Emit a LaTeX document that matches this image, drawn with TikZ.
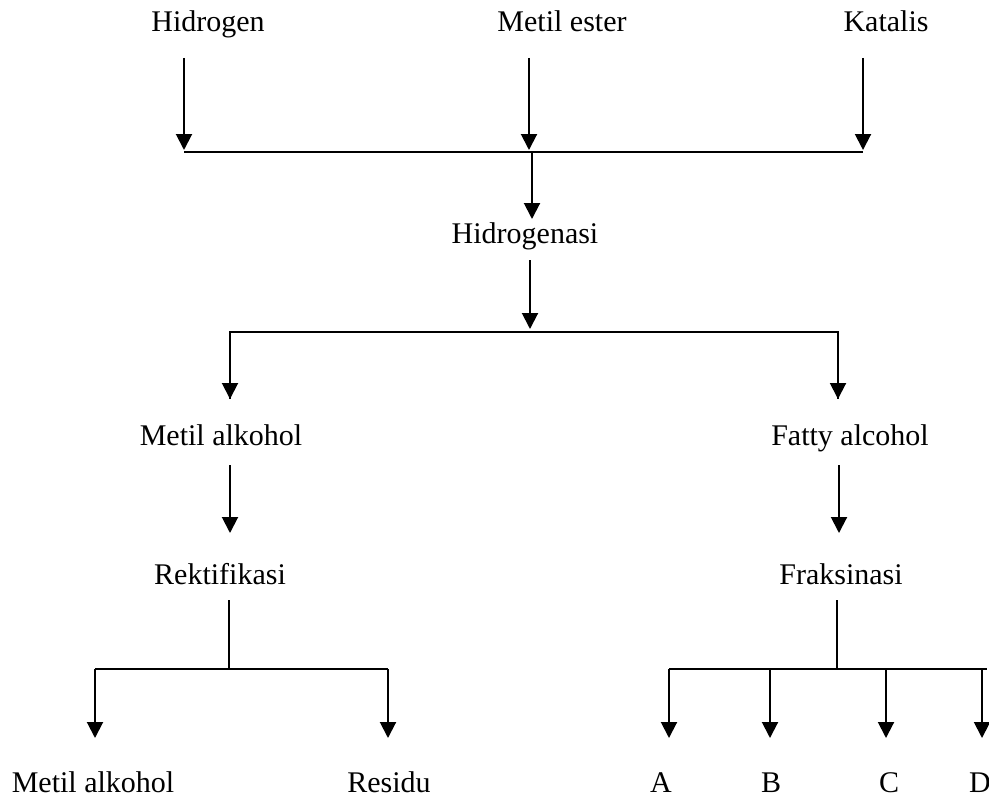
\documentclass[tikz,border=0pt]{standalone}
\usepackage{fontspec}
\setmainfont{Liberation Serif}
\usetikzlibrary{arrows.meta}
\begin{document}
\begin{tikzpicture}[x=0.5pt,y=-0.5pt,
  lbl/.style={font=\fontsize{15}{18}\selectfont, inner sep=0pt, anchor=base},
  ln/.style={line width=1pt},
  arr/.style={line width=1pt, -{Triangle[length=8pt,width=8pt]}}]
\useasboundingbox (0,0) rectangle (989,797);
% texts
\node[lbl] (hid) at (208,32) {Hidrogen};
\node[lbl] (me)  at (562,32) {Metil ester};
\node[lbl] (kat) at (886,32) {Katalis};
\node[lbl] (hgn) at (525,243) {Hidrogenasi};
\node[lbl] (ma)  at (221,445) {Metil alkohol};
\node[lbl] (fa)  at (850,445) {Fatty alcohol};
\node[lbl] (rek) at (220,584) {Rektifikasi};
\node[lbl] (fra) at (841,584) {Fraksinasi};
\node[lbl] (ma2) at (93,792) {Metil alkohol};
\node[lbl] (res) at (389,792) {Residu};
\node[lbl] (fA) at (661,792) {A};
\node[lbl] (fB) at (771,792) {B};
\node[lbl] (fC) at (889,792) {C};
\node[lbl] (fD) at (980,792) {D};
% junction coordinates
\coordinate (s1) at (184,58);
\coordinate (s2) at (529,58);
\coordinate (s3) at (863,58);
\coordinate (b1L) at (184,152);
\coordinate (b1M) at (532,152);
\coordinate (b1R) at (863,152);
\coordinate (t1) at (532,219);
\coordinate (s4) at (530,260);
\coordinate (b2M) at (530,332);
\coordinate (b2L) at (230,332);
\coordinate (b2R) at (838,332);
\coordinate (t2L) at (230,399);
\coordinate (t2R) at (838,399);
\coordinate (s5L) at (230,465);
\coordinate (t5L) at (230,533);
\coordinate (s5R) at (839,465);
\coordinate (t5R) at (839,533);
\coordinate (s6L) at (229,600);
\coordinate (b6L) at (229,669);
\coordinate (s6R) at (837,600);
\coordinate (b6R) at (837,669);
\coordinate (r1) at (95,669);
\coordinate (r2) at (388,669);
\coordinate (f1) at (669,669);
\coordinate (f2) at (770,669);
\coordinate (f3) at (886,669);
\coordinate (f4) at (982,669);
\coordinate (fe) at (987,669);
\coordinate (re1) at (95,738);
\coordinate (re2) at (388,738);
\coordinate (fe1) at (669,738);
\coordinate (fe2) at (770,738);
\coordinate (fe3) at (886,738);
\coordinate (fe4) at (982,738);
% top inputs
\draw[arr] (s1) -- ([yshift=1pt]b1L);
\draw[arr] (s2) -- ([yshift=1pt]s2 |- b1L);
\draw[arr] (s3) -- ([yshift=1pt]b1R);
\draw[ln] (b1L) -- (b1R);
\draw[arr] (b1M) -- (t1);
% hidrogenasi split
\draw[arr] (s4) -- ([yshift=1.5pt]b2M);
\draw[ln] (t2L) -- (b2L) -- (b2R) -- (t2R);
\draw[arr] (b2L) -- (t2L);
\draw[arr] (b2R) -- (t2R);
% middle arrows
\draw[arr] (s5L) -- (t5L);
\draw[arr] (s5R) -- (t5R);
% rektifikasi
\draw[ln] (s6L) -- (b6L);
\draw[ln] (r1) -- (r2);
\draw[arr] (r1) -- (re1);
\draw[arr] (r2) -- (re2);
% fraksinasi
\draw[ln] (s6R) -- (b6R);
\draw[ln] (f1) -- (fe);
\draw[arr] (f1) -- (fe1);
\draw[arr] (f2) -- (fe2);
\draw[arr] (f3) -- (fe3);
\draw[arr] (f4) -- (fe4);
\end{tikzpicture}
\end{document}
